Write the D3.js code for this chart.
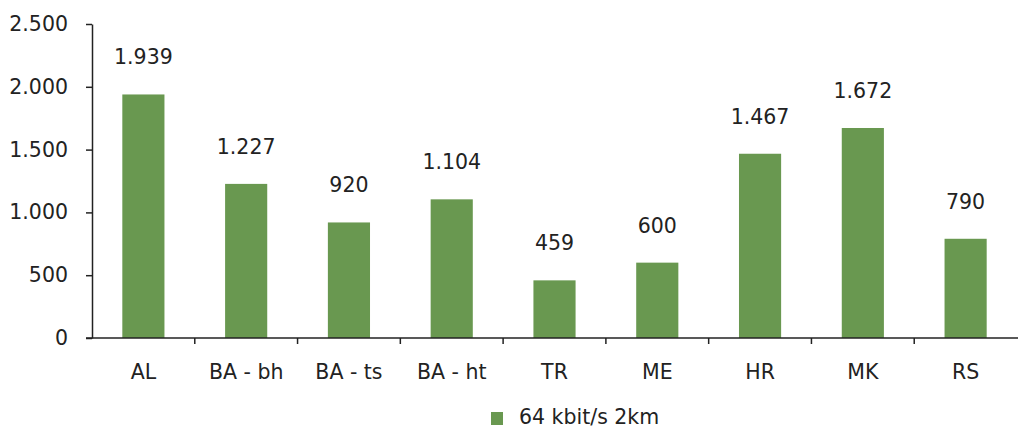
<!DOCTYPE html>
<html>
<head>
<meta charset="utf-8">
<script src="https://cdn.jsdelivr.net/npm/d3@7"></script>
<style>
  body { margin: 0; background: #fff; }
  svg text { font-family: "DejaVu Sans", sans-serif; fill: #222; }
</style>
</head>
<body>
<svg id="chart" width="1018" height="429"></svg>
<script>
// Monthly price per country/operator
const categories = ["AL", "BA - bh", "BA - ts", "BA - ht", "TR", "ME", "HR", "MK", "RS"];
const values = [1939, 1227, 920, 1104, 459, 600, 1467, 1672, 790];
const yTicks = [0, 500, 1000, 1500, 2000, 2500];
const seriesName = "64 kbit/s 2km";

const svg = d3.select("#chart");
const plotLeft = 92, plotRight = 1017, plotTop = 24, plotBottom = 338;
const barColor = "#699850";
const ink = "#222";
const fontSize = 20.5;

const x = d3.scaleBand().domain(categories).range([plotLeft, plotRight]);
const y = d3.scaleLinear().domain([0, 2500]).range([plotBottom, plotTop]);
const fmt = d3.formatLocale({ decimal: ",", thousands: ".", grouping: [3], currency: ["", ""] }).format(",d");

// Bars
const barW = x.bandwidth() * 0.41;
svg.append("g").selectAll("rect").data(values).join("rect")
  .attr("x", (d, i) => x(categories[i]) + (x.bandwidth() - barW) / 2)
  .attr("y", d => y(d))
  .attr("width", barW)
  .attr("height", d => y(0) - y(d))
  .attr("fill", barColor);

// Value labels
svg.append("g").selectAll("text").data(values).join("text")
  .attr("x", (d, i) => x(categories[i]) + x.bandwidth() / 2)
  .attr("y", d => y(d) - 30)
  .attr("text-anchor", "middle")
  .attr("font-size", fontSize)
  .text(d => fmt(d));

// Y axis
const yAxis = svg.append("g").attr("transform", `translate(${plotLeft},0)`)
  .call(d3.axisLeft(y).tickValues(yTicks).tickFormat(fmt).tickSize(6).tickSizeOuter(0).tickPadding(18));
yAxis.select(".domain").attr("stroke", ink).attr("stroke-width", 1.5);
yAxis.selectAll(".tick line").attr("stroke", ink).attr("stroke-width", 1.5);
yAxis.selectAll(".tick text").attr("font-size", fontSize).attr("font-family", "DejaVu Sans, sans-serif").attr("fill", ink);

// X axis baseline with separators between categories
const xg = svg.append("g");
xg.append("line").attr("x1", plotLeft - 6).attr("x2", 1018).attr("y1", plotBottom).attr("y2", plotBottom)
  .attr("stroke", ink).attr("stroke-width", 1.5);
xg.selectAll("line.sep").data(categories.slice(1)).join("line").attr("class", "sep")
  .attr("x1", d => x(d)).attr("x2", d => x(d))
  .attr("y1", plotBottom).attr("y2", plotBottom + 6)
  .attr("stroke", ink).attr("stroke-width", 1.5);
xg.selectAll("text").data(categories).join("text")
  .attr("x", d => x(d) + x.bandwidth() / 2)
  .attr("y", 379)
  .attr("text-anchor", "middle")
  .attr("font-size", fontSize)
  .text(d => d);

// Legend
const lg = svg.append("g");
lg.append("rect").attr("x", 491).attr("y", 412).attr("width", 12).attr("height", 13).attr("fill", barColor);
lg.append("text").attr("x", 519).attr("y", 424).attr("font-size", fontSize).text(seriesName);
</script>
</body>
</html>
